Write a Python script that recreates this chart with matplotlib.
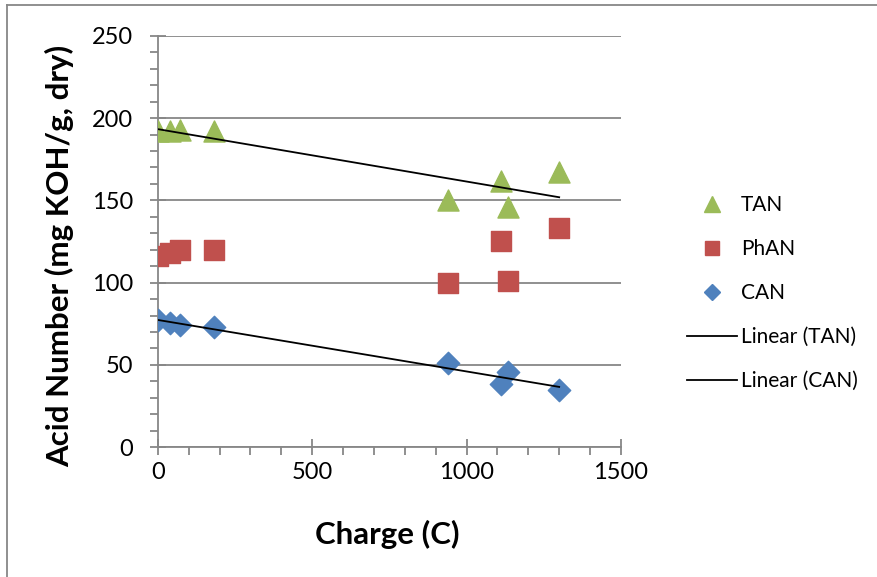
import matplotlib.pyplot as plt
import numpy as np
from matplotlib.lines import Line2D
from matplotlib.ticker import MultipleLocator

# data
charge = [0, 38, 73, 181, 940, 1110, 1135, 1300]
tan = [192, 192, 193, 192, 150, 162, 146, 167]
phan = [116, 118, 120, 120, 100, 125, 101, 133]
can = [77, 75.5, 74, 73, 51, 38.5, 45.5, 34.5]

plt.rcParams['font.family'] = ['Lato', 'DejaVu Sans']

fig = plt.figure(figsize=(8.77, 5.77), dpi=100)
ax = fig.add_axes([0.180, 0.225, 0.528, 0.713])

# chart area border, only top and left show in the crop
fig.add_artist(Line2D([0.008, 0.008], [0.0, 0.991], transform=fig.transFigure,
                      color='#878787', linewidth=1.3))
fig.add_artist(Line2D([0.008, 1.0], [0.991, 0.991], transform=fig.transFigure,
                      color='#878787', linewidth=1.3))

ax.scatter(charge, tan, marker='^', s=230, color='#9BBB59', zorder=3, label='TAN')
ax.scatter(charge, phan, marker='s', s=200, color='#C0504D', zorder=3, label='PhAN')
ax.scatter(charge, can, marker='D', s=130, color='#4F81BD', zorder=3, label='CAN')

# linear trendlines like excel
xs = np.array([min(charge), max(charge)])
m, b = np.polyfit(charge, tan, 1)
ax.plot(xs, m * xs + b, color='black', linewidth=1.3, zorder=4)
m, b = np.polyfit(charge, can, 1)
ax.plot(xs, m * xs + b, color='black', linewidth=1.3, zorder=4)

ax.set_xlim(0, 1500)
ax.set_ylim(0, 250)
ax.xaxis.set_major_locator(MultipleLocator(500))
ax.xaxis.set_minor_locator(MultipleLocator(100))
ax.yaxis.set_major_locator(MultipleLocator(50))
ax.yaxis.set_minor_locator(MultipleLocator(10))
ax.grid(axis='y', which='major', color='#878787', linewidth=1.3)
ax.set_axisbelow(True)

for s in ['top', 'right']:
    ax.spines[s].set_visible(False)
for s in ['left', 'bottom']:
    ax.spines[s].set_color('#878787')
    ax.spines[s].set_linewidth(1.3)
ax.tick_params(which='major', direction='inout', length=12, width=1.3, color='#878787',
               labelsize=17)
ax.tick_params(axis='x', which='major', pad=5)
ax.tick_params(axis='y', which='major', pad=12)
ax.tick_params(which='minor', direction='out', length=6, width=1.3, color='#878787')

# axis titles placed where excel put them
fig.text(0.441, 0.073, 'Charge (C)', fontsize=22.5, fontweight='bold',
         ha='center', va='center')
fig.text(0.068, 0.556, 'Acid Number (mg KOH/g, dry)', fontsize=22.5, fontweight='bold',
         ha='center', va='center', rotation=90)

handles = [
    Line2D([], [], marker='^', linestyle='none', markersize=11, color='#9BBB59'),
    Line2D([], [], marker='s', linestyle='none', markersize=10, color='#C0504D'),
    Line2D([], [], marker='D', linestyle='none', markersize=8, color='#4F81BD'),
    Line2D([], [], color='black', linewidth=1.3),
    Line2D([], [], color='black', linewidth=1.3),
]
labels = ['TAN', 'PhAN', 'CAN', 'Linear (TAN)', 'Linear (CAN)']
fig.legend(handles, labels, loc='center left', bbox_to_anchor=(0.762, 0.492),
           frameon=False, fontsize=15, labelspacing=1.15, handlelength=2.4,
           handletextpad=0.2)

plt.savefig('out.png', dpi=100)
